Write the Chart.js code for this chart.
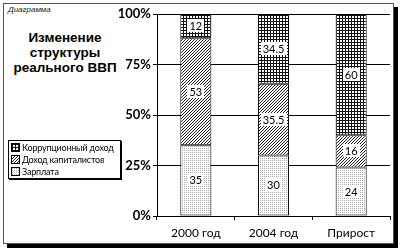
<!DOCTYPE html>
<html><head><meta charset="utf-8">
<script src="https://cdn.jsdelivr.net/npm/chart.js@4"></script>
<style>
html,body{margin:0;padding:0;background:#fff;}
#wrap{position:relative;width:400px;height:251px;overflow:hidden;font-family:Lato,"Liberation Sans",sans-serif;}
#frame{position:absolute;left:3px;top:3px;width:389px;height:239px;border:1px solid #555;box-shadow:4px 4px 0 #000;background:#fff;}
#cv{position:absolute;left:0;top:0;}
#cap{position:absolute;left:8px;top:5px;font-size:8px;font-style:italic;color:#222;font-family:"Liberation Sans",sans-serif;}
#title{position:absolute;left:4px;top:30px;width:122px;text-align:center;font-weight:bold;font-size:13.5px;line-height:15px;font-family:"Liberation Sans",Arial,sans-serif;}
#legend{position:absolute;left:8px;top:140px;width:111px;height:37px;border:1px solid #000;box-shadow:1px 1px 0 #000;background:#fff;font-size:9px;letter-spacing:-0.2px;font-family:Lato,sans-serif;}
.li{position:absolute;left:2px;height:12px;line-height:12px;white-space:nowrap;}
.li canvas{display:inline-block;vertical-align:middle;width:7px;height:7px;border:1px solid #000;margin-right:2px;margin-top:-2px;}
</style></head>
<body><div id="wrap">
<div id="frame"></div>
<div id="cap">Диаграмма</div>
<div id="title">Изменение<br>структуры<br>реального ВВП</div>
<div id="legend"></div>
<canvas id="cv" width="400" height="251"></canvas>
</div>
<script>
const categories = ["2000 год", "2004 год", "Прирост"];
const seriesNames = ["Зарплата", "Доход капиталистов", "Коррупционный доход"];
const salary = [35, 30, 24];
const capital = [53, 35.5, 16];
const corruption = [12, 34.5, 60];
const yTicks = [0, 25, 50, 75, 100];

function makePattern(kind){
  const c = document.createElement('canvas');
  const ctx = c.getContext('2d');
  if(kind==='dots'){
    c.width=2;c.height=2;
    ctx.fillStyle='#fff';ctx.fillRect(0,0,2,2);
    ctx.fillStyle='#aaa';ctx.fillRect(0,0,1,1);
  } else if(kind==='diag'){
    c.width=3;c.height=3;
    ctx.fillStyle='#fff';ctx.fillRect(0,0,3,3);
    ctx.fillStyle='#222';
    for(let i=0;i<3;i++){ctx.fillRect(i,2-i,1,1);}
  } else {
    c.width=3;c.height=3;
    ctx.fillStyle='#111';ctx.fillRect(0,0,3,3);
    ctx.fillStyle='#fff';ctx.fillRect(1,1,2,2);
  }
  return c;
}
const tiles = {dots:makePattern('dots'), diag:makePattern('diag'), grid:makePattern('grid')};
const mainCtx = document.getElementById('cv').getContext('2d');
const pats = {
  dots: mainCtx.createPattern(tiles.dots,'repeat'),
  diag: mainCtx.createPattern(tiles.diag,'repeat'),
  grid: mainCtx.createPattern(tiles.grid,'repeat')
};

const legendItems = [[seriesNames[2],'grid'],[seriesNames[1],'diag'],[seriesNames[0],'dots']];
const lg = document.getElementById('legend');
legendItems.forEach((it,i)=>{
  const d=document.createElement('div');d.className='li';d.style.top=(1+i*12)+'px';
  const c=document.createElement('canvas');c.width=7;c.height=7;
  const cx=c.getContext('2d');cx.fillStyle=cx.createPattern(tiles[it[1]],'repeat');cx.fillRect(0,0,7,7);
  d.appendChild(c);d.appendChild(document.createTextNode(it[0]));lg.appendChild(d);
});

const FONT = 'Lato,"Liberation Sans",sans-serif';
const labelPlugin = {
  id:'segLabels',
  afterDatasetsDraw(chart){
    const ctx=chart.ctx;
    ctx.save();
    ctx.font='11px '+FONT;
    ctx.textAlign='center';ctx.textBaseline='middle';
    chart.data.datasets.forEach((ds,di)=>{
      const meta=chart.getDatasetMeta(di);
      meta.data.forEach((bar,i)=>{
        const v=ds.data[i];
        const y=(bar.y+bar.base)/2;
        const t=String(v);
        const w=ctx.measureText(t).width+4;
        ctx.fillStyle='#fff';
        ctx.fillRect(Math.round(bar.x-w/2),Math.round(y-7),Math.round(w),13);
        ctx.fillStyle='#000';
        ctx.fillText(t,bar.x,y+0.5);
      });
    });
    ctx.restore();
  }
};

const common = {borderColor:'#000',borderWidth:1,borderSkipped:false,barPercentage:0.4,categoryPercentage:1.0};
new Chart(document.getElementById('cv'),{
  type:'bar',
  data:{labels:categories,datasets:[
    Object.assign({label:seriesNames[0],data:salary,backgroundColor:pats.dots},common),
    Object.assign({label:seriesNames[1],data:capital,backgroundColor:pats.diag},common),
    Object.assign({label:seriesNames[2],data:corruption,backgroundColor:pats.grid},common)
  ]},
  options:{
    responsive:false,animation:false,devicePixelRatio:1,
    layout:{padding:{left:0,top:14,right:10,bottom:0}},
    plugins:{legend:{display:false},tooltip:{enabled:false}},
    scales:{
      x:{stacked:true,
        afterFit(s){s.height=35;},
        grid:{offset:true,drawOnChartArea:false,drawTicks:true,tickLength:4,color:'#000'},
        border:{color:'#000'},
        ticks:{color:'#000',font:{size:12,family:FONT},padding:6}
      },
      y:{stacked:true,min:0,max:100,
        afterFit(s){s.width=157;},
        afterBuildTicks(s){s.ticks=yTicks.map(v=>({value:v}));},
        grid:{color:'#000',lineWidth:1,tickLength:4},
        border:{color:'#000'},
        ticks:{color:'#000',padding:2,callback:v=>v+'%',font:{size:13,weight:'bold',family:FONT}}
      }
    }
  },
  plugins:[labelPlugin]
});
</script>
</body></html>
